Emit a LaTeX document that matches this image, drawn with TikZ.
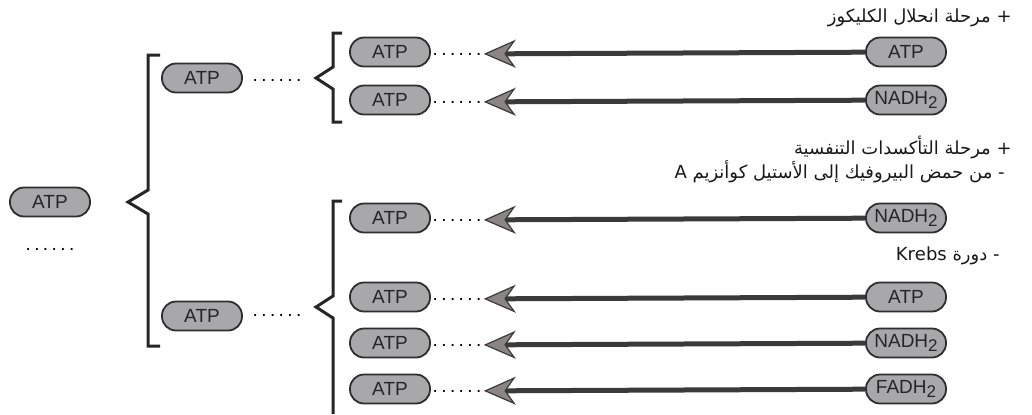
\documentclass[tikz,border=0pt]{standalone}
\usepackage{fontspec}
\setmainfont{Liberation Sans}
\newfontfamily\arabicfont[Script=Arabic]{DejaVu Sans}
\newfontfamily\dotfont[LetterSpace=18]{Liberation Sans}
\TeXXeTstate=1
\usetikzlibrary{arrows.meta}
\definecolor{pillgray}{HTML}{A8A8AA}
\definecolor{pilledge}{HTML}{2E2E2E}
\definecolor{shaftgray}{HTML}{3A3A3A}
\definecolor{headgray}{HTML}{8C8585}
\newcommand{\subtwo}{\raisebox{-0.35ex}{\fontsize{8.5}{9}\selectfont 2}}
\tikzset{
  pill/.style={draw=pilledge, line width=0.9pt, fill=pillgray, rounded corners=7pt,
    minimum width=40pt, minimum height=14.5pt, inner sep=0pt,
    font=\fontsize{9.5}{10}\selectfont, text=black!85},
  dotrow/.style={font=\dotfont\fontsize{9.5}{10}\selectfont, inner sep=0pt},
  feed/.style={line width=2.5pt, draw=shaftgray, shorten >=1pt,
    -{Stealth[length=16pt, width=14pt, inset=5pt, fill=headgray, color=shaftgray, line width'=0.6pt]}},
  brace/.style={line width=1.5pt, draw=black!85},
  arlabel/.style={font=\arabicfont\fontsize{9}{10}\selectfont, anchor=east, inner sep=0pt, text=black!90}
}
\begin{document}
\begin{tikzpicture}[x=0.5pt, y=-0.5pt]
\useasboundingbox (0,0) rectangle (1032,414);
\node[pill] (total) at (50,202) {ATP};
\node[dotrow] (dtotal) at (50,249) {......};
\draw[brace] (160,55) -- (148,55) -- (148,190) -- (128,202) -- (148,214) -- (148,346) -- (160,346);
\node[pill] (glyco) at (202,78) {ATP};
\node[dotrow] (dglyco) at (277,80) {......};
\node[pill] (resp) at (202,316) {ATP};
\node[dotrow] (dresp) at (277,315) {......};
\draw[brace] (342,33) -- (333,33) -- (333,67) -- (316,78) -- (333,89) -- (333,122) -- (342,122);
\draw[brace] (342,201) -- (333,201) -- (333,296) -- (316,307) -- (333,318) -- (333,414);
\node[arlabel] (tglyco) at (1012,18) {\beginR + مرحلة انحلال الكليكوز\endR};
\node[arlabel] (tresp) at (1012,147) {\beginR + مرحلة التأكسدات التنفسية\endR};
\node[arlabel] (tpyr) at (1005,172) {\beginR - من حمض البيروفيك إلى الأستيل كوأنزيم A\endR};
\node[arlabel] (tkrebs) at (1000,256) {\beginR - دورة \beginL Krebs\endL\endR};
\node[pill] (p1) at (390,52) {ATP};
\node[dotrow] (d1) at (457,54) {......};
\node[pill] (s1) at (906,52) {ATP};
\draw[feed] (s1) -- (d1);
\node[pill] (p2) at (390,100) {ATP};
\node[dotrow] (d2) at (457,102) {......};
\node[pill] (s2) at (906,100) {NADH\subtwo};
\draw[feed] (s2) -- (d2);
\node[pill] (p3) at (390,218) {ATP};
\node[dotrow] (d3) at (457,220) {......};
\node[pill] (s3) at (906,218) {NADH\subtwo};
\draw[feed] (s3) -- (d3);
\node[pill] (p4) at (390,297) {ATP};
\node[dotrow] (d4) at (457,299) {......};
\node[pill] (s4) at (906,297) {ATP};
\draw[feed] (s4) -- (d4);
\node[pill] (p5) at (390,343) {ATP};
\node[dotrow] (d5) at (457,345) {......};
\node[pill] (s5) at (906,343) {NADH\subtwo};
\draw[feed] (s5) -- (d5);
\node[pill] (p6) at (390,389) {ATP};
\node[dotrow] (d6) at (457,391) {......};
\node[pill] (s6) at (906,389) {FADH\subtwo};
\draw[feed] (s6) -- (d6);
\end{tikzpicture}
\end{document}
